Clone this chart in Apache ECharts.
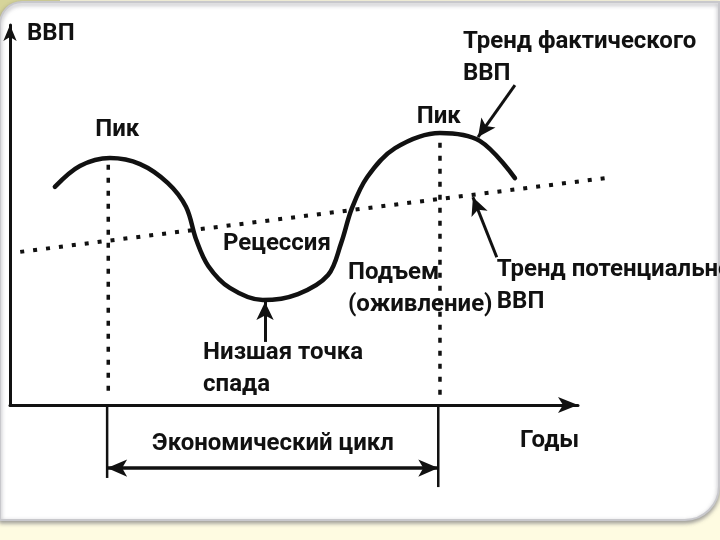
<!DOCTYPE html>
<html>
<head>
<meta charset="utf-8">
<title>Экономический цикл</title>
<script src="https://cdn.jsdelivr.net/npm/echarts@6/dist/echarts.min.js"></script>
<style>
	html, body { margin: 0; padding: 0; background: #fefbe1; }
	#chart { width: 720px; height: 540px; }
</style>
</head>
<body>
<div id="chart"></div>
<script>
// фактический ВВП (годы / ВВП, условные единицы 0..100)
var actualX = [7.9, 12.3, 17.6, 22.9, 27.8, 31.0, 32.8, 34.9, 38.7, 44.5, 50.7, 56.0, 58.3, 60.2, 62.9, 67.8, 75.7, 82.7, 88.9];
var actualY = [57.4, 62.9, 65.0, 63.4, 58.4, 52.1, 43.4, 36.6, 30.8, 27.6, 29.2, 34.2, 42.6, 51.8, 60.0, 67.6, 71.6, 69.5, 59.7];

// тренд потенциального ВВП
var trendX = [1.8, 104.8];
var trendY = [40.3, 59.7];

// пики: пунктир от кривой вниз к оси
var peakX = [17.3, 75.7];
var peakTop = [63.2, 69.0];
var peakBottom = [2.6, 1.3];

// экономический цикл (ниже оси)
var cycleX = [17.1, 75.4];
var cycleBottom = [-19.2, -21.6];
var cycleArrowY = -16.6;

// стрелки-указатели [x1, y1, x2, y2]
var pointers = [
	[88.9, 84.2, 82.4, 70.5],
	[85.7, 38.9, 81.5, 54.7],
	[44.9, 16.6, 44.9, 27.1]
];

// подписи
var labelText = ["ВВП", "Пик", "Пик", "Тренд фактического\nВВП", "Рецессия", "Подъем\n(оживление)",
	"Тренд потенциального\nВВП", "Низшая точка\nспада", "Экономический цикл", "Годы"];
var labelX = [3.0, 15.0, 71.6, 79.75, 37.5, 59.5, 85.7, 34.0, 46.3, 89.8];
var labelY = [97.6, 72.4, 75.8, 91.4, 42.4, 30.4, 31.2, 9.6, -10.3, -9.5];
var labelAlign = ["left", "left", "left", "left", "left", "left", "left", "left", "center", "left"];

var font = "Roboto, 'DejaVu Sans', sans-serif";
var ink = "#111";

// ось X видна до 100, данные рисуются в более широкой сетке с тем же масштабом
var axisMax = 100;
var dataMax = 110;
var pxPerUnit = 5.68;

var actualData = [];
actualX.forEach(function(x, i) {
	actualData.push([x, actualY[i]]);
});

var labelData = [];
labelText.forEach(function(t, i) {
	labelData.push({
		value: [labelX[i], labelY[i]],
		name: t,
		label: { align: labelAlign[i] }
	});
});

var arrows = [];
pointers.forEach(function(p) {
	arrows.push([{ coord: [p[0], p[1]], symbol: "none" }, { coord: [p[2], p[3]], symbol: "arrow" }]);
});

var series = [{
	name: "Фактический ВВП",
	type: "line",
	xAxisIndex: 1,
	yAxisIndex: 1,
	smooth: 0.35,
	showSymbol: false,
	clip: false,
	silent: true,
	data: actualData,
	lineStyle: { color: ink, width: 4.5, cap: "round" }
}, {
	name: "Потенциальный ВВП",
	type: "line",
	xAxisIndex: 1,
	yAxisIndex: 1,
	showSymbol: false,
	clip: false,
	silent: true,
	data: [[trendX[0], trendY[0]], [trendX[1], trendY[1]]],
	lineStyle: { color: ink, width: 4, type: [4, 9] }
}];

peakX.forEach(function(x, i) {
	series.push({
		type: "line",
		xAxisIndex: 1,
		yAxisIndex: 1,
		showSymbol: false,
		clip: false,
		silent: true,
		data: [[x, peakTop[i]], [x, peakBottom[i]]],
		lineStyle: { color: ink, width: 3.5, type: [5, 8] }
	});
	// сплошные засечки цикла ниже оси
	series.push({
		type: "line",
		xAxisIndex: 1,
		yAxisIndex: 1,
		showSymbol: false,
		clip: false,
		silent: true,
		data: [[cycleX[i], 0], [cycleX[i], cycleBottom[i]]],
		lineStyle: { color: ink, width: 2.5 }
	});
});

// двусторонняя стрелка "Экономический цикл"
series.push({
	type: "line",
	xAxisIndex: 1,
	yAxisIndex: 1,
	clip: false,
	silent: true,
	symbol: "arrow",
	symbolSize: [13, 20],
	showSymbol: true,
	itemStyle: { color: ink },
	data: [
		{ value: [cycleX[0], cycleArrowY], symbolRotate: 90 },
		{ value: [cycleX[1], cycleArrowY], symbolRotate: -90 }
	],
	lineStyle: { color: ink, width: 3.5 }
});

series.push({
	type: "scatter",
	xAxisIndex: 1,
	yAxisIndex: 1,
	symbolSize: 0,
	clip: false,
	silent: true,
	itemStyle: { opacity: 1 },
	data: labelData,
	label: {
		show: true,
		position: "inside",
		formatter: "{b}",
		color: ink,
		opacity: 1,
		fontFamily: font,
		fontWeight: "bold",
		fontSize: 24,
		lineHeight: 32
	},
	markLine: {
		silent: true,
		symbolSize: [13, 18],
		label: { show: false },
		lineStyle: { color: ink, width: 3, type: "solid", opacity: 1 },
		data: arrows
	}
});

function hiddenParts(axis) {
	axis.axisTick = { show: false };
	axis.axisLabel = { show: false };
	axis.splitLine = { show: false };
	return axis;
}

var myChart = echarts.init(document.getElementById("chart"));

var option = {
	animation: false,
	backgroundColor: "#fefbe1",
	graphic: [{
		type: "rect",
		z: -10,
		shape: { x: 0, y: 0, width: 60, height: 40 },
		style: { fill: "#d6d49a" }
	}, {
		type: "rect",
		z: -9,
		shape: { x: 0, y: 2, width: 719, height: 518, r: [22, 0, 34, 0] },
		style: {
			fill: "#ffffff",
			stroke: "#c8c8cc",
			lineWidth: 2,
			shadowBlur: 4,
			shadowOffsetY: 2,
			shadowColor: "rgba(90,90,100,0.6)"
		}
	}],
	grid: [
		{ left: 10, right: 720 - 10 - axisMax * pxPerUnit, top: 25, bottom: 135 },
		{ left: 10, right: 720 - 10 - dataMax * pxPerUnit, top: 25, bottom: 135 }
	],
	xAxis: [
		hiddenParts({
			type: "value",
			gridIndex: 0,
			min: 0,
			max: axisMax,
			axisLine: {
				show: true,
				onZero: false,
				symbol: ["none", "arrow"],
				symbolSize: [12, 20],
				lineStyle: { color: ink, width: 3 }
			}
		}),
		hiddenParts({ type: "value", gridIndex: 1, min: 0, max: dataMax, axisLine: { show: false } })
	],
	yAxis: [
		hiddenParts({
			type: "value",
			gridIndex: 0,
			min: 0,
			max: 100,
			axisLine: {
				show: true,
				onZero: false,
				symbol: ["none", "arrow"],
				symbolSize: [10, 16],
				lineStyle: { color: ink, width: 3 }
			}
		}),
		hiddenParts({ type: "value", gridIndex: 1, min: 0, max: 100, axisLine: { show: false } })
	],
	series: series
};

myChart.setOption(option, true);
</script>
</body>
</html>
